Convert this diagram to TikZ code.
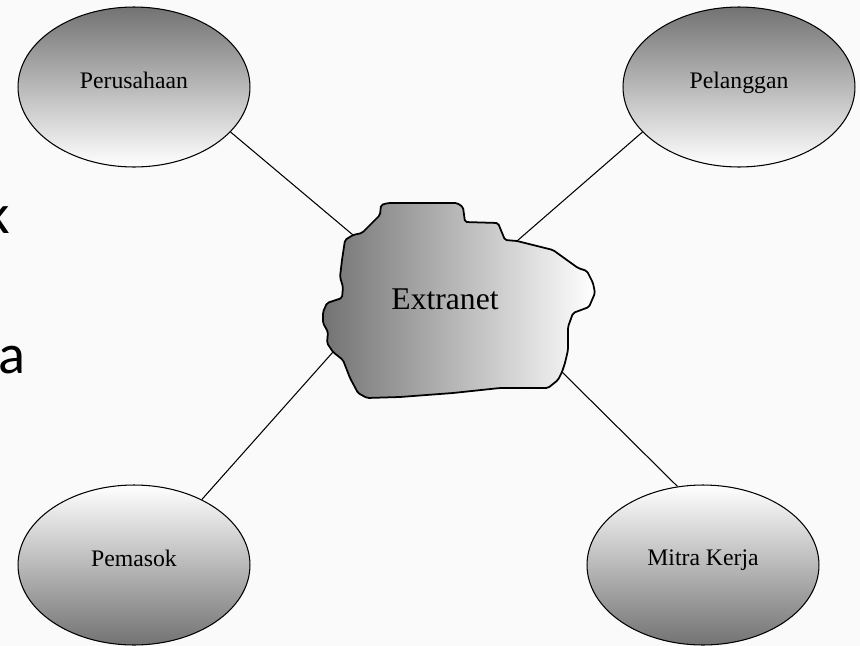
\documentclass[tikz,border=0pt]{standalone}
\usepackage{fontspec}
\setmainfont{Liberation Serif}
\newfontfamily\slidefont{Carlito}
\usetikzlibrary{shapes.geometric}
\begin{document}
\begin{tikzpicture}[x=0.02cm,y=-0.02cm,
	party/.style={ellipse, draw=black, line width=0.6pt, inner sep=0pt, minimum width=4.64cm, minimum height=3.2cm,
		label={[yshift=4pt, text depth=0pt, font=\fontsize{13.5}{16}\selectfont]center:#1}},
	upper/.style={party=#1, top color=black!55, bottom color=white},
	lower/.style={party=#1, top color=white, bottom color=black!55},
	link/.style={line width=0.6pt},
	slide/.style={inner sep=0pt, font=\slidefont\fontsize{32}{38}\selectfont}]

	\useasboundingbox[fill=black!2]	(0,0)	rectangle	(860,646);

	\node 	(k)		at	(10,233) 	[slide, anchor=base east]{k};
	\node 	(a)		at	(-2,373) 	[slide, anchor=base west]{a};

	\node 	(e1)		at	(134,87) 	[upper=Perusahaan]{};
	\node 	(e2)		at	(739,87) 	[upper=Pelanggan]{};
	\node 	(e3)		at	(134,565) 	[lower=Pemasok]{};
	\node 	(e4)		at	(703,565) 	[lower=Mitra Kerja]{};

	\coordinate	(c1)	at	(353,235);
	\coordinate	(c2)	at	(517,241);
	\coordinate	(c3)	at	(333,352);
	\coordinate	(c4)	at	(562,372);

	\draw[link]	(e1.-25)	to	(c1);
	\draw[link]	(e2.-155)	to	(c2);
	\draw[link]	(e3.44)	to	(c3);
	\draw[link]	(e4.108)	to	(c4);

	\draw[line width=1pt, left color=black!55, middle color=black!22, right color=white, rounded corners=1pt]
		(353,235) -- (362,233) -- (380,215) -- (381,205) -- (388,203) -- (457,203) -- (463,207) -- (465,222)
		-- (498,223) -- (505,240) -- (517,241) -- (553,250) -- (578,268) -- (587,271) -- (593,283) -- (595,293)
		-- (589,307) -- (573,313) -- (568,327) -- (568,350) -- (565,363) -- (562,372) -- (558,380) -- (548,388)
		-- (500,388) -- (453,393) -- (400,397) -- (367,398) -- (358,393) -- (350,378) -- (343,360) -- (333,352)
		-- (327,343) -- (328,332) -- (323,323) -- (323,312) -- (327,303) -- (342,298) -- (343,287) -- (340,277)
		-- (342,260) -- (345,240) -- cycle;

	\node 	(ext)		at	(445,299) 	[font=\fontsize{18}{22}\selectfont]{Extranet};

\end{tikzpicture}
\end{document}
